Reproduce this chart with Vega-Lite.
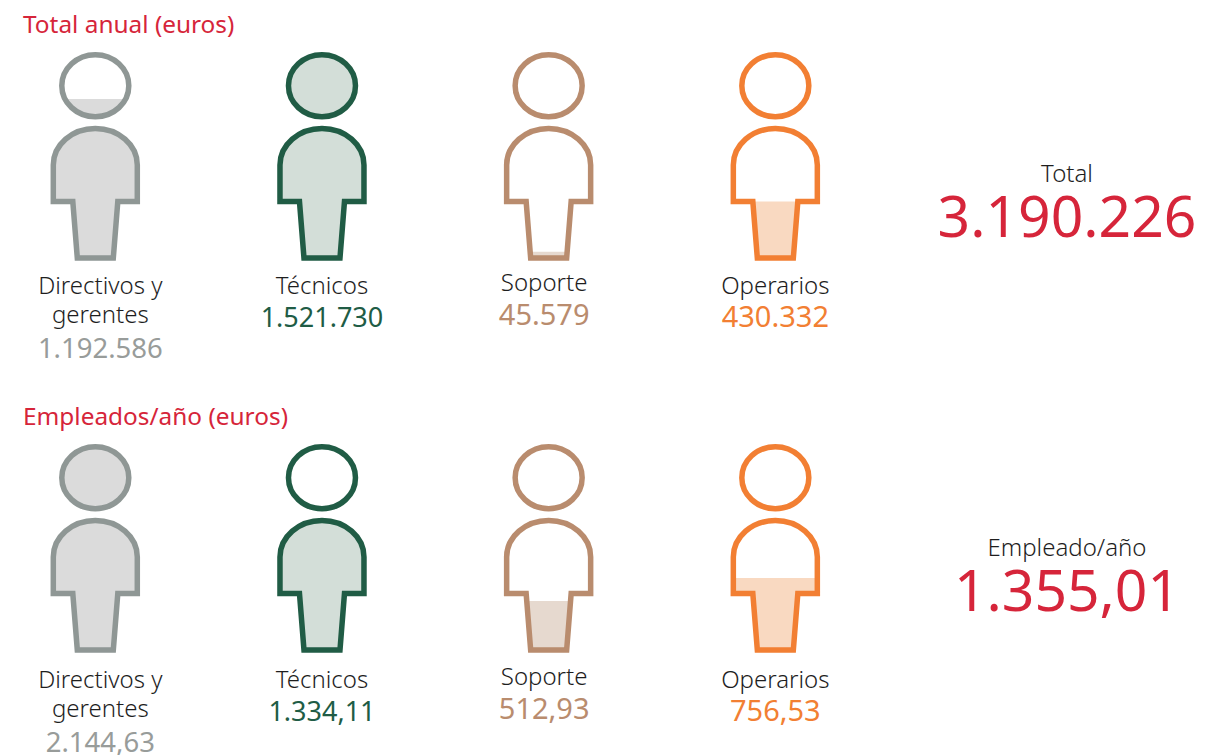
{
"$schema":"https://vega.github.io/schema/vega-lite/v6.json",
"width":1211,"height":755,"padding":0,"autosize":"none","background":"white",
"view":{"stroke":null},
"config":{"text":{"font":"Noto Sans","fontWeight":300,"baseline":"alphabetic"}},
"datasets":{
"roles":[
{"panel":"Total anual (euros)","category":"Directivos","label":"Directivos y\ngerentes","value":1192586,"valueLabel":"1.192.586","fillState":"cabeza parcial y cuerpo"},
{"panel":"Total anual (euros)","category":"Técnicos","label":"Técnicos","value":1521730,"valueLabel":"1.521.730","fillState":"completo"},
{"panel":"Total anual (euros)","category":"Soporte","label":"Soporte","value":45579,"valueLabel":"45.579","fillState":"base"},
{"panel":"Total anual (euros)","category":"Operarios","label":"Operarios","value":430332,"valueLabel":"430.332","fillState":"tronco"},
{"panel":"Empleados/año (euros)","category":"Directivos","label":"Directivos y\ngerentes","value":2144.63,"valueLabel":"2.144,63","fillState":"completo"},
{"panel":"Empleados/año (euros)","category":"Técnicos","label":"Técnicos","value":1334.11,"valueLabel":"1.334,11","fillState":"cuerpo"},
{"panel":"Empleados/año (euros)","category":"Soporte","label":"Soporte","value":512.93,"valueLabel":"512,93","fillState":"tronco parcial"},
{"panel":"Empleados/año (euros)","category":"Operarios","label":"Operarios","value":756.53,"valueLabel":"756,53","fillState":"hombros"}
],
"summary":[
{"panel":"Total anual (euros)","category":"Total","label":"Total","value":3190226,"valueLabel":"3.190.226"},
{"panel":"Empleados/año (euros)","category":"Total","label":"Empleado/año","value":1355.01,"valueLabel":"1.355,01"}
]},
"resolve":{"scale":{"y":"independent","color":"independent"}},
"layer":[
{"data":{"name":"roles"},
 "mark":{"type":"point","filled":true,"size":4,"opacity":1,"strokeWidth":0},
 "encoding":{
  "x":{"field":"category","type":"nominal","axis":null,"scale":{"type":"point","padding":0,"domain":["Directivos","Técnicos","Soporte","Operarios","Total"],"range":[95.3,1002]}},
  "y":{"field":"panel","type":"nominal","axis":null,"scale":{"type":"point","padding":0,"domain":["Total anual (euros)","Empleados/año (euros)"],"range":[155,547]}},
  "fill":{"field":"category","type":"nominal","legend":null,"scale":{"domain":["Directivos","Técnicos","Soporte","Operarios"],"range":["#DBDBDB","#D3DED8","#E6D9CF","#F9D9C1"]}},
  "shape":{"field":"fillState","type":"nominal","legend":null,"scale":{"domain":["cabeza parcial y cuerpo","completo","cuerpo","base","tronco","tronco parcial","hombros"],
   "range":[
   "M-30.26,-56 A33.5,31 0 0 0 30.26,-56 Z M-42,10 C-42,-10.2 -23.2,-26.5 0,-26.5 C23.2,-26.5 42,-10.2 42,10 L42,46.5 L22.5,46.5 L18,103 L-18,103 L-22.5,46.5 L-42,46.5 Z",
   "M-33.5,-69.3 A33.5,31 0 1 0 33.5,-69.3 A33.5,31 0 1 0 -33.5,-69.3 Z M-42,10 C-42,-10.2 -23.2,-26.5 0,-26.5 C23.2,-26.5 42,-10.2 42,10 L42,46.5 L22.5,46.5 L18,103 L-18,103 L-22.5,46.5 L-42,46.5 Z",
   "M-42,10 C-42,-10.2 -23.2,-26.5 0,-26.5 C23.2,-26.5 42,-10.2 42,10 L42,46.5 L22.5,46.5 L18,103 L-18,103 L-22.5,46.5 L-42,46.5 Z",
   "M-18.5,96.7 L18.5,96.7 L18,103 L-18,103 Z",
   "M-22.5,46.5 L22.5,46.5 L18,103 L-18,103 Z",
   "M-21.9,54 L21.9,54 L18,103 L-18,103 Z",
   "M-42,31 L42,31 L42,46.5 L22.5,46.5 L18,103 L-18,103 L-22.5,46.5 L-42,46.5 Z"
   ]}}
 }},
{"data":{"name":"roles"},
 "mark":{"type":"point","filled":false,"size":4,"opacity":1,"strokeWidth":5.5,"strokeJoin":"miter","shape":"M-33.5,-69.3 A33.5,31 0 1 0 33.5,-69.3 A33.5,31 0 1 0 -33.5,-69.3 Z M-42,10 C-42,-10.2 -23.2,-26.5 0,-26.5 C23.2,-26.5 42,-10.2 42,10 L42,46.5 L22.5,46.5 L18,103 L-18,103 L-22.5,46.5 L-42,46.5 Z"},
 "encoding":{
  "x":{"field":"category","type":"nominal","axis":null},
  "y":{"field":"panel","type":"nominal","axis":null,"scale":{"type":"point","padding":0,"domain":["Total anual (euros)","Empleados/año (euros)"],"range":[155,547]}},
  "stroke":{"field":"category","type":"nominal","legend":null,"scale":{"domain":["Directivos","Técnicos","Soporte","Operarios"],"range":["#8F9795","#205C45","#B98C6E","#F27F33"]}}
 }},
{"data":{"name":"summary"},
 "mark":{"type":"text","align":"left","dx":-72.3,"dy":-121.7,"fontSize":24.4,"fontWeight":400,"color":"#D6253A"},
 "encoding":{
  "x":{"datum":"Directivos","type":"nominal","axis":null},
  "y":{"field":"panel","type":"nominal","axis":null,"scale":{"type":"point","padding":0,"domain":["Total anual (euros)","Empleados/año (euros)"],"range":[155,547]}},
  "text":{"field":"panel"}
 }},
{"data":{"name":"roles"},"transform":[{"filter":"datum.category==='Directivos'"}],
 "mark":{"type":"text","dx":5,"dy":138.5,"fontSize":24,"lineBreak":"\n","lineHeight":29,"color":"#1E1E1E"},
 "encoding":{
  "x":{"field":"category","type":"nominal","axis":null},
  "y":{"field":"panel","type":"nominal","axis":null,"scale":{"type":"point","padding":0,"domain":["Total anual (euros)","Empleados/año (euros)"],"range":[155,549]}},
  "text":{"field":"label"}
 }},
{"data":{"name":"roles"},"transform":[{"filter":"datum.category==='Técnicos'||datum.category==='Operarios'"}],
 "mark":{"type":"text","dy":139,"fontSize":24,"color":"#1E1E1E"},
 "encoding":{
  "x":{"field":"category","type":"nominal","axis":null},
  "y":{"field":"panel","type":"nominal","axis":null,"scale":{"type":"point","padding":0,"domain":["Total anual (euros)","Empleados/año (euros)"],"range":[155,549]}},
  "text":{"field":"label"}
 }},
{"data":{"name":"roles"},"transform":[{"filter":"datum.category==='Soporte'"}],
 "mark":{"type":"text","dx":-4.5,"dy":135.7,"fontSize":24,"color":"#1E1E1E"},
 "encoding":{
  "x":{"field":"category","type":"nominal","axis":null},
  "y":{"field":"panel","type":"nominal","axis":null,"scale":{"type":"point","padding":0,"domain":["Total anual (euros)","Empleados/año (euros)"],"range":[155,549]}},
  "text":{"field":"label"}
 }},
{"data":{"name":"roles"},"transform":[{"filter":"datum.category==='Directivos'"}],
 "mark":{"type":"text","dx":5,"dy":203,"fontSize":27.5,"fontWeight":400},
 "encoding":{
  "x":{"field":"category","type":"nominal","axis":null},
  "y":{"field":"panel","type":"nominal","axis":null,"scale":{"type":"point","padding":0,"domain":["Total anual (euros)","Empleados/año (euros)"],"range":[155,549]}},
  "text":{"field":"valueLabel"},
  "color":{"field":"category","type":"nominal","legend":null,"scale":{"domain":["Directivos","Técnicos","Soporte","Operarios"],"range":["#989C9A","#205C45","#B98C6E","#F27F33"]}}
 }},
{"data":{"name":"roles"},"transform":[{"filter":"datum.category==='Técnicos'"}],
 "mark":{"type":"text","dy":171.7,"fontSize":27,"fontWeight":400},
 "encoding":{
  "x":{"field":"category","type":"nominal","axis":null},
  "y":{"field":"panel","type":"nominal","axis":null,"scale":{"type":"point","padding":0,"domain":["Total anual (euros)","Empleados/año (euros)"],"range":[155,549]}},
  "text":{"field":"valueLabel"},
  "color":{"field":"category","type":"nominal","legend":null,"scale":{"domain":["Directivos","Técnicos","Soporte","Operarios"],"range":["#989C9A","#205C45","#B98C6E","#F27F33"]}}
 }},
{"data":{"name":"roles"},"transform":[{"filter":"datum.category==='Operarios'"}],
 "mark":{"type":"text","dy":171.7,"fontSize":29,"fontWeight":400},
 "encoding":{
  "x":{"field":"category","type":"nominal","axis":null},
  "y":{"field":"panel","type":"nominal","axis":null,"scale":{"type":"point","padding":0,"domain":["Total anual (euros)","Empleados/año (euros)"],"range":[155,549]}},
  "text":{"field":"valueLabel"},
  "color":{"field":"category","type":"nominal","legend":null,"scale":{"domain":["Directivos","Técnicos","Soporte","Operarios"],"range":["#989C9A","#205C45","#B98C6E","#F27F33"]}}
 }},
{"data":{"name":"roles"},"transform":[{"filter":"datum.category==='Soporte'"}],
 "mark":{"type":"text","dx":-4.5,"dy":170,"fontSize":29,"fontWeight":400},
 "encoding":{
  "x":{"field":"category","type":"nominal","axis":null},
  "y":{"field":"panel","type":"nominal","axis":null,"scale":{"type":"point","padding":0,"domain":["Total anual (euros)","Empleados/año (euros)"],"range":[155,549]}},
  "text":{"field":"valueLabel"},
  "color":{"field":"category","type":"nominal","legend":null,"scale":{"domain":["Directivos","Técnicos","Soporte","Operarios"],"range":["#989C9A","#205C45","#B98C6E","#F27F33"]}}
 }},
{"data":{"name":"summary"},
 "mark":{"type":"text","dx":65,"dy":27.3,"fontSize":24,"color":"#1E1E1E"},
 "encoding":{
  "x":{"field":"category","type":"nominal","axis":null},
  "y":{"field":"panel","type":"nominal","axis":null,"scale":{"type":"point","padding":0,"domain":["Total anual (euros)","Empleados/año (euros)"],"range":[155,529]}},
  "text":{"field":"label"}
 }},
{"data":{"name":"summary"},
 "mark":{"type":"text","dx":65,"dy":82.3,"fontSize":57,"fontWeight":400,"color":"#D6253A"},
 "encoding":{
  "x":{"field":"category","type":"nominal","axis":null},
  "y":{"field":"panel","type":"nominal","axis":null,"scale":{"type":"point","padding":0,"domain":["Total anual (euros)","Empleados/año (euros)"],"range":[155,529]}},
  "text":{"field":"valueLabel"}
 }}
]}
